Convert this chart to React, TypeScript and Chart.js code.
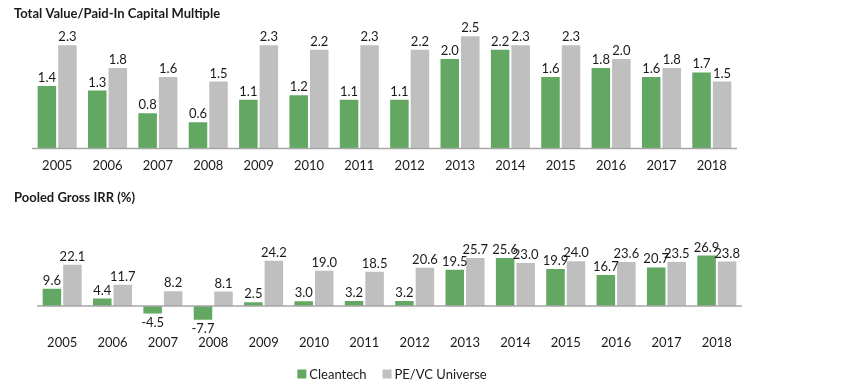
import React, { useEffect, useRef } from 'react';
import Chart from 'chart.js/auto';

const years = ['2005', '2006', '2007', '2008', '2009', '2010', '2011', '2012', '2013', '2014', '2015', '2016', '2017', '2018'];
const seriesNames = ['Cleantech', 'PE/VC Universe'];
const tvpiCleantech = [1.4, 1.3, 0.8, 0.6, 1.1, 1.2, 1.1, 1.1, 2.0, 2.2, 1.6, 1.8, 1.6, 1.7];
const tvpiUniverse = [2.3, 1.8, 1.6, 1.5, 2.3, 2.2, 2.3, 2.2, 2.5, 2.3, 2.3, 2.0, 1.8, 1.5];
const irrCleantech = [9.6, 4.4, -4.5, -7.7, 2.5, 3.0, 3.2, 3.2, 19.5, 25.6, 19.9, 16.7, 20.7, 26.9];
const irrUniverse = [22.1, 11.7, 8.2, 8.1, 24.2, 19.0, 18.5, 20.6, 25.7, 23.0, 24.0, 23.6, 23.5, 23.8];
const topTitle = 'Total Value/Paid-In Capital Multiple';
const bottomTitle = 'Pooled Gross IRR (%)';

const FONT = "Lato, 'Noto Sans', sans-serif";
const TEXT = '#1a1a1a';
const GREEN = '#62A862';
const GRAY = '#BFBFBF';
const AXIS = '#A6A6A6';

const valueLabels = {
  id: 'valueLabels',
  afterDatasetsDraw(chart: any) {
    const ctx = chart.ctx;
    ctx.save();
    const y0 = chart.scales.y.getPixelForValue(0);
    ctx.strokeStyle = AXIS;
    ctx.lineWidth = 1.5;
    ctx.beginPath();
    ctx.moveTo(chart.chartArea.left, y0);
    ctx.lineTo(chart.chartArea.right, y0);
    ctx.stroke();
    ctx.font = `13px ${FONT}`;
    ctx.fillStyle = TEXT;
    ctx.textAlign = 'center';
    chart.data.datasets.forEach((ds: any, i: number) => {
      const meta = chart.getDatasetMeta(i);
      meta.data.forEach((bar: any, j: number) => {
        const v = ds.data[j];
        const txt = v.toFixed(1);
        if (v >= 0) {
          ctx.textBaseline = 'alphabetic';
          ctx.fillText(txt, bar.x, bar.y - 3);
        } else {
          ctx.textBaseline = 'top';
          ctx.fillText(txt, bar.x, bar.y + 2);
        }
      });
    });
    ctx.restore();
  },
};

const customLegend = {
  id: 'customLegend',
  afterDraw(chart: any) {
    const ctx = chart.ctx;
    ctx.save();
    ctx.font = `13px ${FONT}`;
    ctx.textBaseline = 'middle';
    ctx.textAlign = 'left';
    const box = 9;
    const gap = 3;
    const spacing = 16;
    const items = chart.data.datasets.map((ds: any) => ({
      label: ds.label,
      color: ds.backgroundColor,
      w: box + gap + ctx.measureText(ds.label).width,
    }));
    const total = items.reduce((a: number, it: any) => a + it.w, 0) + spacing * (items.length - 1);
    const cx = 392;
    const cy = 194;
    let x = cx - total / 2;
    items.forEach((it: any) => {
      ctx.fillStyle = it.color;
      ctx.fillRect(x, cy - box / 2, box, box);
      ctx.fillStyle = TEXT;
      ctx.fillText(it.label, x + box + gap, cy + 0.5);
      x += it.w + spacing;
    });
    ctx.restore();
  },
};

function makeConfig(opts: {
  a: number[];
  b: number[];
  title: string;
  min: number;
  max: number;
  yWidth: number;
  xHeight: number;
  padRight: number;
  padBottom: number;
  titlePad: { top: number; bottom: number };
  legend: boolean;
}): any {
  return {
    type: 'bar',
    data: {
      labels: years,
      datasets: [
        { label: seriesNames[0], data: opts.a, backgroundColor: GREEN, borderColor: 'rgba(255,255,255,0.55)', borderWidth: 1 },
        { label: seriesNames[1], data: opts.b, backgroundColor: GRAY, borderColor: 'rgba(255,255,255,0.55)', borderWidth: 1 },
      ],
    },
    plugins: opts.legend ? [valueLabels, customLegend] : [valueLabels],
    options: {
      responsive: false,
      animation: false,
      devicePixelRatio: 1,
      layout: { padding: { left: 14, right: opts.padRight, top: 0, bottom: opts.padBottom } },
      datasets: { bar: { categoryPercentage: 0.815, barPercentage: 1 } },
      plugins: {
        legend: { display: false },
        tooltip: { enabled: false },
        title: {
          display: true,
          text: opts.title,
          align: 'start',
          color: TEXT,
          font: { family: FONT, size: 13, weight: 'bold' },
          padding: opts.titlePad,
        },
      },
      scales: {
        x: {
          grid: { display: false, drawTicks: false },
          border: { display: false },
          ticks: { color: TEXT, font: { family: FONT, size: 13 }, padding: 10, maxRotation: 0, autoSkip: false },
          afterFit: (s: any) => {
            s.height = opts.xHeight;
          },
        },
        y: {
          min: opts.min,
          max: opts.max,
          display: true,
          grid: { display: false, drawTicks: false },
          border: { display: false },
          ticks: { display: false },
          afterFit: (s: any) => {
            s.width = opts.yWidth;
          },
        },
      },
    },
  };
}

export default function App() {
  const topRef = useRef<HTMLCanvasElement>(null);
  const botRef = useRef<HTMLCanvasElement>(null);

  useEffect(() => {
    const c1 = new Chart(
      topRef.current as HTMLCanvasElement,
      makeConfig({
        a: tvpiCleantech,
        b: tvpiUniverse,
        title: topTitle,
        min: 0,
        max: 2.6,
        yWidth: 18,
        xHeight: 31.5,
        padRight: 104,
        padBottom: 0,
        titlePad: { top: 6.5, bottom: 8.6 },
        legend: false,
      })
    );
    const c2 = new Chart(
      botRef.current as HTMLCanvasElement,
      makeConfig({
        a: irrCleantech,
        b: irrUniverse,
        title: bottomTitle,
        min: -10,
        max: 30,
        yWidth: 23,
        xHeight: 30,
        padRight: 99,
        padBottom: 32.9,
        titlePad: { top: 10.5, bottom: 42.6 },
        legend: true,
      })
    );
    return () => {
      c1.destroy();
      c2.destroy();
    };
  }, []);

  return (
    <div style={{ position: 'fixed', left: 0, top: 0, width: 841, height: 388, background: '#fff' }}>
      <canvas ref={topRef} width={841} height={180} style={{ position: 'absolute', left: 0, top: 0, width: 841, height: 180 }} />
      <canvas ref={botRef} width={841} height={208} style={{ position: 'absolute', left: 0, top: 180, width: 841, height: 208 }} />
    </div>
  );
}
